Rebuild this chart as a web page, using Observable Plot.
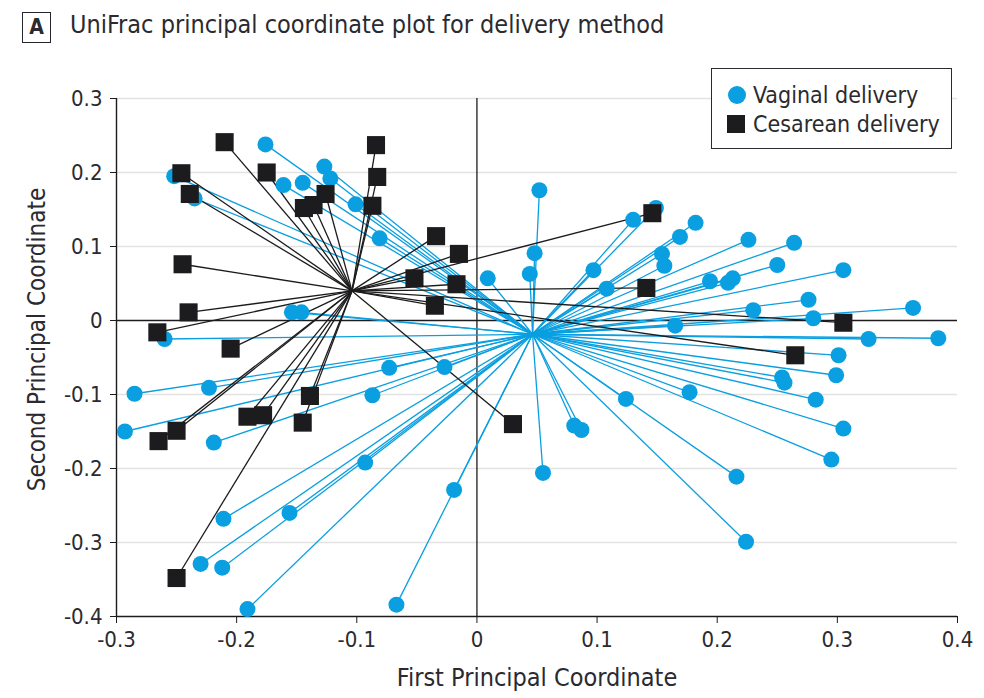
<!DOCTYPE html>
<html>
<head>
<meta charset="utf-8">
<script src="https://cdn.jsdelivr.net/npm/d3@7"></script>
<script src="https://cdn.jsdelivr.net/npm/@observablehq/plot@0.6"></script>
<style>
  body { margin: 0; background: #fff; }
  #wrap { position: relative; width: 984px; height: 698px; font-family: "DejaVu Sans Condensed", "DejaVu Sans", sans-serif; color: #26262e; }
</style>
</head>
<body>
<div id="wrap"></div>
<script>
// ---- Data ----
const titleLetter = "A";
const titleText = "UniFrac principal coordinate plot for delivery method";
const xLabel = "First Principal Coordinate";
const yLabel = "Second Principal Coordinate";
const legendLabels = ["Vaginal delivery", "Cesarean delivery"];

const xTicks = [-0.3, -0.2, -0.1, 0, 0.1, 0.2, 0.3, 0.4];
const yTicks = [-0.4, -0.3, -0.2, -0.1, 0, 0.1, 0.2, 0.3];
const gridY = [-0.3, -0.2, -0.1, 0.1, 0.2, 0.3];

const vaginalX = [-0.176,-0.252,-0.235,-0.161,-0.145,-0.127,-0.122,-0.101,-0.081,-0.154,-0.146,0.052,0.048,0.044,0.009,0.097,0.108,0.130,0.149,0.182,0.169,0.154,0.156,0.226,0.264,0.250,0.305,0.194,0.213,0.209,0.276,0.230,0.363,0.280,0.165,0.326,0.384,0.301,0.299,0.254,0.256,0.282,0.177,0.124,0.305,0.295,0.216,0.224,-0.073,-0.027,-0.087,0.081,0.087,0.055,-0.093,-0.019,-0.067,-0.260,-0.285,-0.223,-0.293,-0.219,-0.211,-0.156,-0.230,-0.212,-0.191];
const vaginalY = [0.238,0.195,0.165,0.183,0.186,0.208,0.192,0.157,0.111,0.011,0.011,0.176,0.091,0.063,0.057,0.068,0.043,0.136,0.152,0.132,0.113,0.090,0.074,0.109,0.105,0.075,0.068,0.053,0.057,0.051,0.028,0.014,0.017,0.003,-0.007,-0.025,-0.024,-0.047,-0.074,-0.077,-0.084,-0.107,-0.097,-0.106,-0.146,-0.188,-0.211,-0.299,-0.064,-0.063,-0.101,-0.142,-0.148,-0.206,-0.192,-0.229,-0.384,-0.025,-0.099,-0.091,-0.150,-0.165,-0.268,-0.260,-0.329,-0.334,-0.390];
const vaginalCentroid = [0.0463, -0.0186];

const cesareanX = [-0.210,-0.246,-0.239,-0.175,-0.084,-0.083,-0.087,-0.126,-0.136,-0.144,-0.245,-0.240,-0.266,-0.205,-0.034,-0.015,-0.052,-0.017,-0.035,0.146,0.141,0.305,0.265,0.030,-0.139,-0.145,-0.178,-0.191,-0.250,-0.265,-0.250];
const cesareanY = [0.241,0.199,0.171,0.200,0.237,0.194,0.155,0.171,0.156,0.152,0.076,0.011,-0.016,-0.038,0.114,0.090,0.057,0.049,0.020,0.145,0.044,-0.003,-0.047,-0.140,-0.102,-0.138,-0.128,-0.130,-0.149,-0.163,-0.348];
const cesareanCentroid = [-0.104, 0.040];

// ---- Styling ----
const BLUE = "#0a9fe0";
const BLACK = "#1c1c1e";
const TEXT = "#2a2a30";
const FONT = "DejaVu Sans Condensed, DejaVu Sans, sans-serif";

const vaginal = vaginalX.map((x, i) => ({x, y: vaginalY[i]}));
const cesarean = cesareanX.map((x, i) => ({x, y: cesareanY[i]}));
const fmt = d => d === 0 ? "0" : d.toFixed(1);

const chart = Plot.plot({
  width: 984,
  height: 698,
  marginLeft: 116,
  marginRight: 27,
  marginTop: 98,
  marginBottom: 82,
  style: {fontFamily: FONT, fontSize: "22px", color: TEXT, background: "transparent"},
  x: {domain: [-0.3, 0.4]},
  y: {domain: [-0.4, 0.3]},
  marks: [
    Plot.ruleY(gridY, {stroke: "#e2e2e2", strokeWidth: 1.6}),
    Plot.ruleY([0], {stroke: BLACK, strokeWidth: 1.3}),
    Plot.ruleX([0], {stroke: BLACK, strokeWidth: 1.3}),
    Plot.ruleX([-0.3], {stroke: BLACK, strokeWidth: 1.4}),
    Plot.ruleY([-0.4], {stroke: BLACK, strokeWidth: 1.4}),
    Plot.axisY({ticks: yTicks, tickFormat: fmt, tickSize: 6, tickPadding: 8, label: null, fontSize: 22, stroke: BLACK}),
    Plot.axisX({ticks: xTicks, tickFormat: fmt, tickSize: 7, tickPadding: 8, label: null, fontSize: 22, stroke: BLACK}),
    Plot.text([xLabel], {frameAnchor: "bottom", dy: 69, fontSize: 25, fill: TEXT}),
    Plot.text([yLabel], {frameAnchor: "left", textAnchor: "middle", rotate: -90, dx: -79, dy: -18, fontSize: 24, fill: TEXT}),
    Plot.link(vaginal, {x1: () => vaginalCentroid[0], y1: () => vaginalCentroid[1], x2: "x", y2: "y", stroke: BLUE, strokeWidth: 1.3}),
    Plot.link(cesarean, {x1: () => cesareanCentroid[0], y1: () => cesareanCentroid[1], x2: "x", y2: "y", stroke: BLACK, strokeWidth: 1.3}),
    Plot.dot(vaginal, {x: "x", y: "y", r: 8, fill: BLUE, stroke: "none", symbol: "circle"}),
    Plot.dot(cesarean, {x: "x", y: "y", r: 10.2, fill: BLACK, stroke: "none", symbol: "square"})
  ]
});

const wrap = document.getElementById("wrap");
chart.style.position = "absolute";
chart.style.left = "0px";
chart.style.top = "0px";
wrap.appendChild(chart);

function el(style, text) {
  const e = document.createElement("div");
  Object.assign(e.style, {position: "absolute", whiteSpace: "nowrap", fontFamily: FONT, color: TEXT}, style);
  if (text != null) e.textContent = text;
  wrap.appendChild(e);
  return e;
}

// Title
el({left: "22px", top: "12px", width: "29px", height: "31px", boxSizing: "border-box",
  border: "1.6px solid #26262e", fontSize: "21px", fontWeight: "bold", lineHeight: "28px", textAlign: "center"}, titleLetter);
el({left: "70px", top: "11.5px", fontSize: "25px", lineHeight: "1"}, titleText);

// Legend
el({left: "711px", top: "68px", width: "241px", height: "81px", boxSizing: "border-box",
  border: "1.6px solid #2a2a30", background: "#fff"});
el({left: "728px", top: "86px", width: "18px", height: "18px", borderRadius: "50%", background: BLUE});
el({left: "727px", top: "115px", width: "18px", height: "18px", background: BLACK});
el({left: "753px", top: "83.5px", fontSize: "23px", lineHeight: "1"}, legendLabels[0]);
el({left: "753px", top: "112.5px", fontSize: "23px", lineHeight: "1"}, legendLabels[1]);
</script>
</body>
</html>
